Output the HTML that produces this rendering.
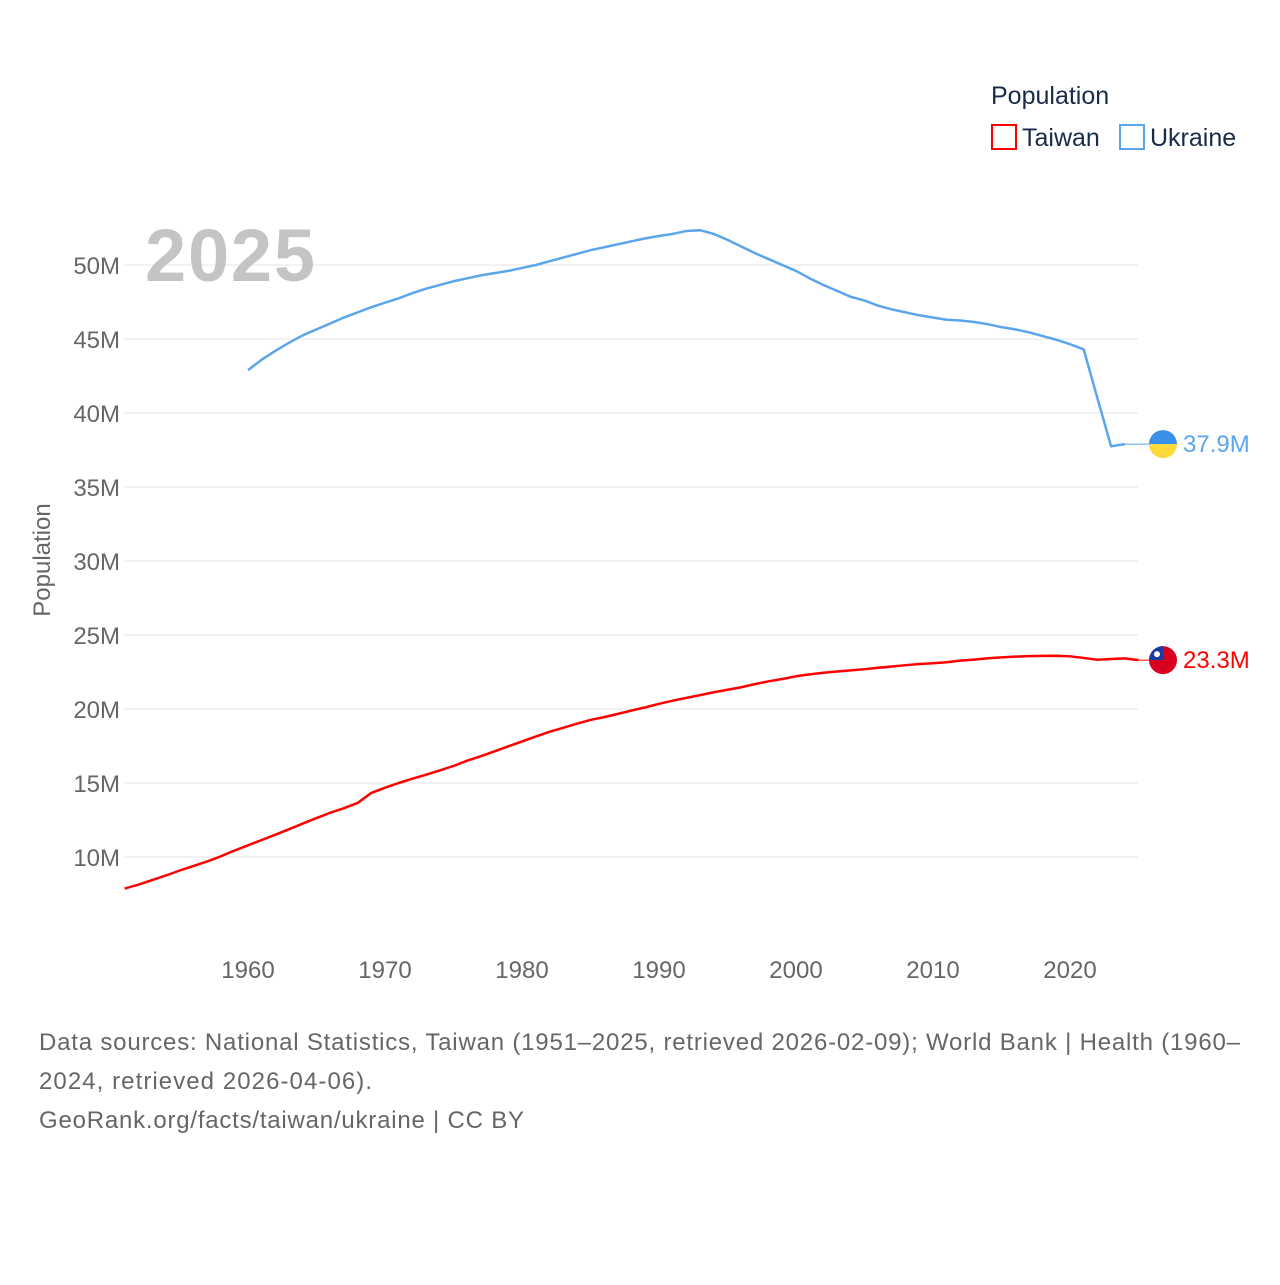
<!DOCTYPE html>
<html><head><meta charset="utf-8"><style>
body{margin:0;background:#fff;font-family:"Liberation Sans",sans-serif}
svg text{font-family:"Liberation Sans",sans-serif}
</style></head><body>
<svg id="chart" width="1280" height="1280" xmlns="http://www.w3.org/2000/svg">
<text x="991" y="104" font-size="25" fill="#1a2a4a">Population</text>
<rect x="992" y="125" width="24" height="24" fill="none" stroke="#ff0000" stroke-width="2"/>
<text x="1022" y="146" font-size="25" fill="#1a2a4a">Taiwan</text>
<rect x="1120" y="125" width="24" height="24" fill="none" stroke="#5aa5ec" stroke-width="2"/>
<text x="1150" y="146" font-size="25" fill="#1a2a4a">Ukraine</text>
<g id="grid"></g>
<text x="145" y="281" font-size="74" font-weight="bold" fill="#c4c4c4" textLength="170">2025</text>
<text transform="translate(50,560) rotate(-90)" text-anchor="middle" font-size="24" fill="#666">Population</text>
<g id="series"></g>
<text font-size="24" fill="#666"><tspan x="39" y="1050" textLength="1201">Data sources: National Statistics, Taiwan (1951–2025, retrieved 2026-02-09); World Bank | Health (1960–</tspan><tspan x="39" y="1089" textLength="333">2024, retrieved 2026-04-06).</tspan><tspan x="39" y="1128" textLength="485">GeoRank.org/facts/taiwan/ukraine | CC BY</tspan></text>
</svg>
<script>
const yTicks=[10,15,20,25,30,35,40,45,50];
const xTicks=[1960,1970,1980,1990,2000,2010,2020];
const twYears=[];for(let y=1951;y<=2025;y++)twYears.push(y);
const taiwan=[7.87,8.13,8.44,8.75,9.08,9.39,9.69,10.04,10.43,10.79,11.15,11.51,11.88,12.26,12.63,12.99,13.30,13.65,14.33,14.68,15.0,15.29,15.56,15.85,16.15,16.51,16.81,17.14,17.48,17.81,18.14,18.46,18.73,19.01,19.26,19.45,19.67,19.90,20.11,20.35,20.56,20.75,20.94,21.13,21.30,21.47,21.68,21.87,22.03,22.21,22.34,22.45,22.53,22.61,22.69,22.79,22.87,22.96,23.04,23.09,23.16,23.27,23.34,23.43,23.49,23.54,23.57,23.59,23.60,23.56,23.45,23.33,23.38,23.42,23.3];
const uaYears=[];for(let y=1960;y<=2024;y++)uaYears.push(y);
const ukraine=[42.9,43.6,44.2,44.75,45.25,45.65,46.05,46.45,46.8,47.15,47.45,47.75,48.1,48.4,48.65,48.9,49.1,49.3,49.45,49.6,49.8,50.0,50.25,50.5,50.75,51.0,51.2,51.4,51.6,51.8,51.96,52.1,52.3,52.35,52.1,51.7,51.25,50.8,50.4,50.0,49.6,49.1,48.65,48.25,47.85,47.6,47.25,47.0,46.8,46.6,46.45,46.3,46.25,46.15,46.0,45.8,45.65,45.45,45.2,44.95,44.65,44.3,41.0,37.75,37.9];
const X=y=>248+(y-1960)*13.7, Y=v=>857-(v-10)*14.8;
const NS="http://www.w3.org/2000/svg";
function mk(t,a,p){const e=document.createElementNS(NS,t);for(const k in a)e.setAttribute(k,a[k]);p.appendChild(e);return e;}
const g=document.getElementById('grid');
yTicks.forEach(v=>{
 const l=mk('line',{x1:124,x2:1138,y1:Y(v),y2:Y(v),stroke:'#e6e6e6','stroke-width':1},g);
 
 
 const t=mk('text',{x:120,y:Y(v)+9,'text-anchor':'end','font-size':24,fill:'#666'},g);
 t.textContent=v+'M';
 
 
});
xTicks.forEach(v=>{
 const t=mk('text',{x:X(v),y:978,'text-anchor':'middle','font-size':24,fill:'#666'},g);
 t.textContent=v;
 
 
});
const s=document.getElementById('series');
function line(ys,vs,c,name){
 const p=mk('polyline',{points:ys.map((y,i)=>X(y)+','+Y(vs[i])).join(' '),fill:'none',stroke:c,'stroke-width':2.5,'stroke-linejoin':'round'},s);
 
 
}
line(twYears,taiwan,'#ff0000','taiwan-line');
line(uaYears,ukraine,'#5aa5ec','ukraine-line');
const uaLast=ukraine[ukraine.length-1], twLast=taiwan[taiwan.length-1];
const c1=mk('line',{x1:X(2024),x2:1150,y1:Y(uaLast),y2:Y(uaLast),stroke:'#5aa5ec','stroke-width':1},s);


const c2=mk('line',{x1:X(2025),x2:1150,y1:Y(twLast),y2:Y(twLast),stroke:'#ff0000','stroke-width':1},s);


const uy=Y(uaLast);
const fu=mk('g',{},s);


mk('path',{d:`M1149 ${uy} a14 14 0 0 1 28 0 z`,fill:'#3a8fe8'},fu);
mk('path',{d:`M1149 ${uy} a14 14 0 0 0 28 0 z`,fill:'#ffd83a'},fu);
const tu=mk('text',{x:1183,y:uy+8,'font-size':24,fill:'#5aa5ec'},s);
tu.textContent=uaLast.toFixed(1)+'M';


const ty=Y(twLast);
const ft=mk('g',{},s);


mk('circle',{cx:1163,cy:ty,r:14,fill:'#d8001e'},ft);
mk('path',{d:`M1149 ${ty} a14 14 0 0 1 14 -14 v14 z`,fill:'#1c3aa0'},ft);
mk('circle',{cx:1157,cy:ty-6,r:3,fill:'#fff'},ft);
const tt=mk('text',{x:1183,y:ty+8,'font-size':24,fill:'#ff0000'},s);
tt.textContent=twLast.toFixed(1)+'M';


</script>
</body></html>
